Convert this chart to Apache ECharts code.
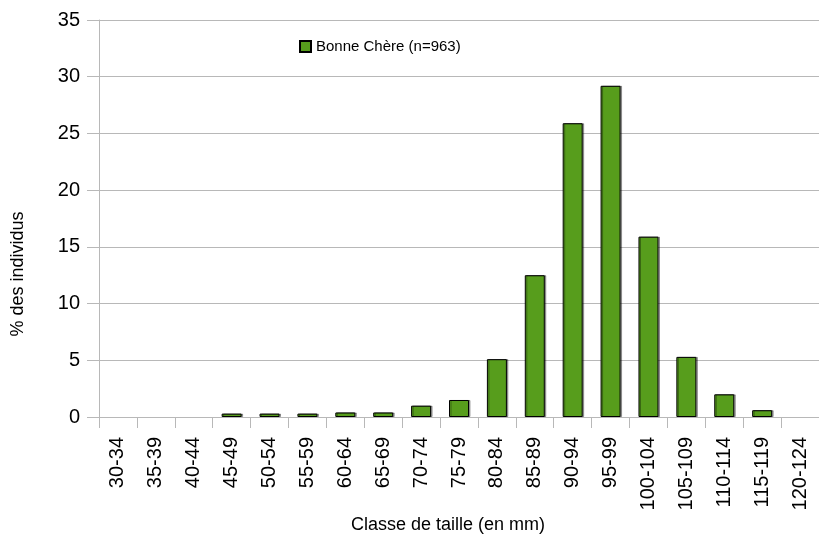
<!DOCTYPE html>
<html><head><meta charset="utf-8">
<script src="https://cdn.jsdelivr.net/npm/echarts@6/dist/echarts.min.js"></script>
<style>html,body{margin:0;padding:0;background:#fff}#c{width:819px;height:536px}</style>
</head><body><div id="c"></div>
<script>
const categories = ['30-34','35-39','40-44','45-49','50-54','55-59','60-64','65-69','70-74','75-79','80-84','85-89','90-94','95-99','100-104','105-109','110-114','115-119','120-124'];
const values = [0,0,0,0.3,0.3,0.3,0.4,0.4,1.0,1.5,5.1,12.5,25.9,29.2,15.9,5.3,2.0,0.6,0];
const seriesName = 'Bonne Chère (n=963)';
const yTitle = '% des individus';
const xTitle = 'Classe de taille (en mm)';

const chart = echarts.init(document.getElementById('c'), null, {renderer:'canvas'});
const gridCol = '#b8b8b8';
chart.setOption({
  animation:false,
  backgroundColor:'#ffffff',
  grid:{left:99, top:20, width:726, bottom:119, containLabel:false},
  legend:{
    left:294, top:34, itemWidth:11, itemHeight:11, itemGap:5,
    textStyle:{fontFamily:'Liberation Sans', fontSize:15, color:'#000'},
    data:[{name:seriesName, icon:'rect'}]
  },
  xAxis:{
    type:'category', data:categories, boundaryGap:true,
    axisLine:{show:true, lineStyle:{color:gridCol, width:1}},
    axisTick:{show:true, length:11, lineStyle:{color:gridCol}},
    axisLabel:{rotate:90, margin:20, fontFamily:'Liberation Sans', fontSize:20, color:'#000', interval:0}
  },
  yAxis:{
    type:'value', min:0, max:35, interval:5,
    axisLine:{show:true, lineStyle:{color:gridCol, width:1}},
    axisTick:{show:true, length:12, lineStyle:{color:gridCol}},
    splitLine:{show:true, lineStyle:{color:gridCol, width:1}},
    axisLabel:{margin:19, fontFamily:'Liberation Sans', fontSize:20, color:'#000'}
  },
  series:[{
    name:seriesName, type:'bar', barWidth:20,
    data: values.map(v => v === 0 ? {value:v, itemStyle:{borderWidth:0, shadowColor:'transparent'}} : v),
    itemStyle:{color:'#579d1c', borderColor:'#000', borderWidth:1,
      shadowColor:'rgba(0,0,0,0.35)', shadowOffsetX:1.5, shadowOffsetY:0, shadowBlur:0}
  }],
  graphic:[
    {type:'text', rotation:Math.PI/2, x:18, y:274,
      style:{text:yTitle, font:'18px "Liberation Sans"', fill:'#000', textAlign:'center', textVerticalAlign:'middle'}},
    {type:'text', x:448, y:525,
      style:{text:xTitle, font:'18px "Liberation Sans"', fill:'#000', textAlign:'center', textVerticalAlign:'middle'}}
  ]
});
</script></body></html>
